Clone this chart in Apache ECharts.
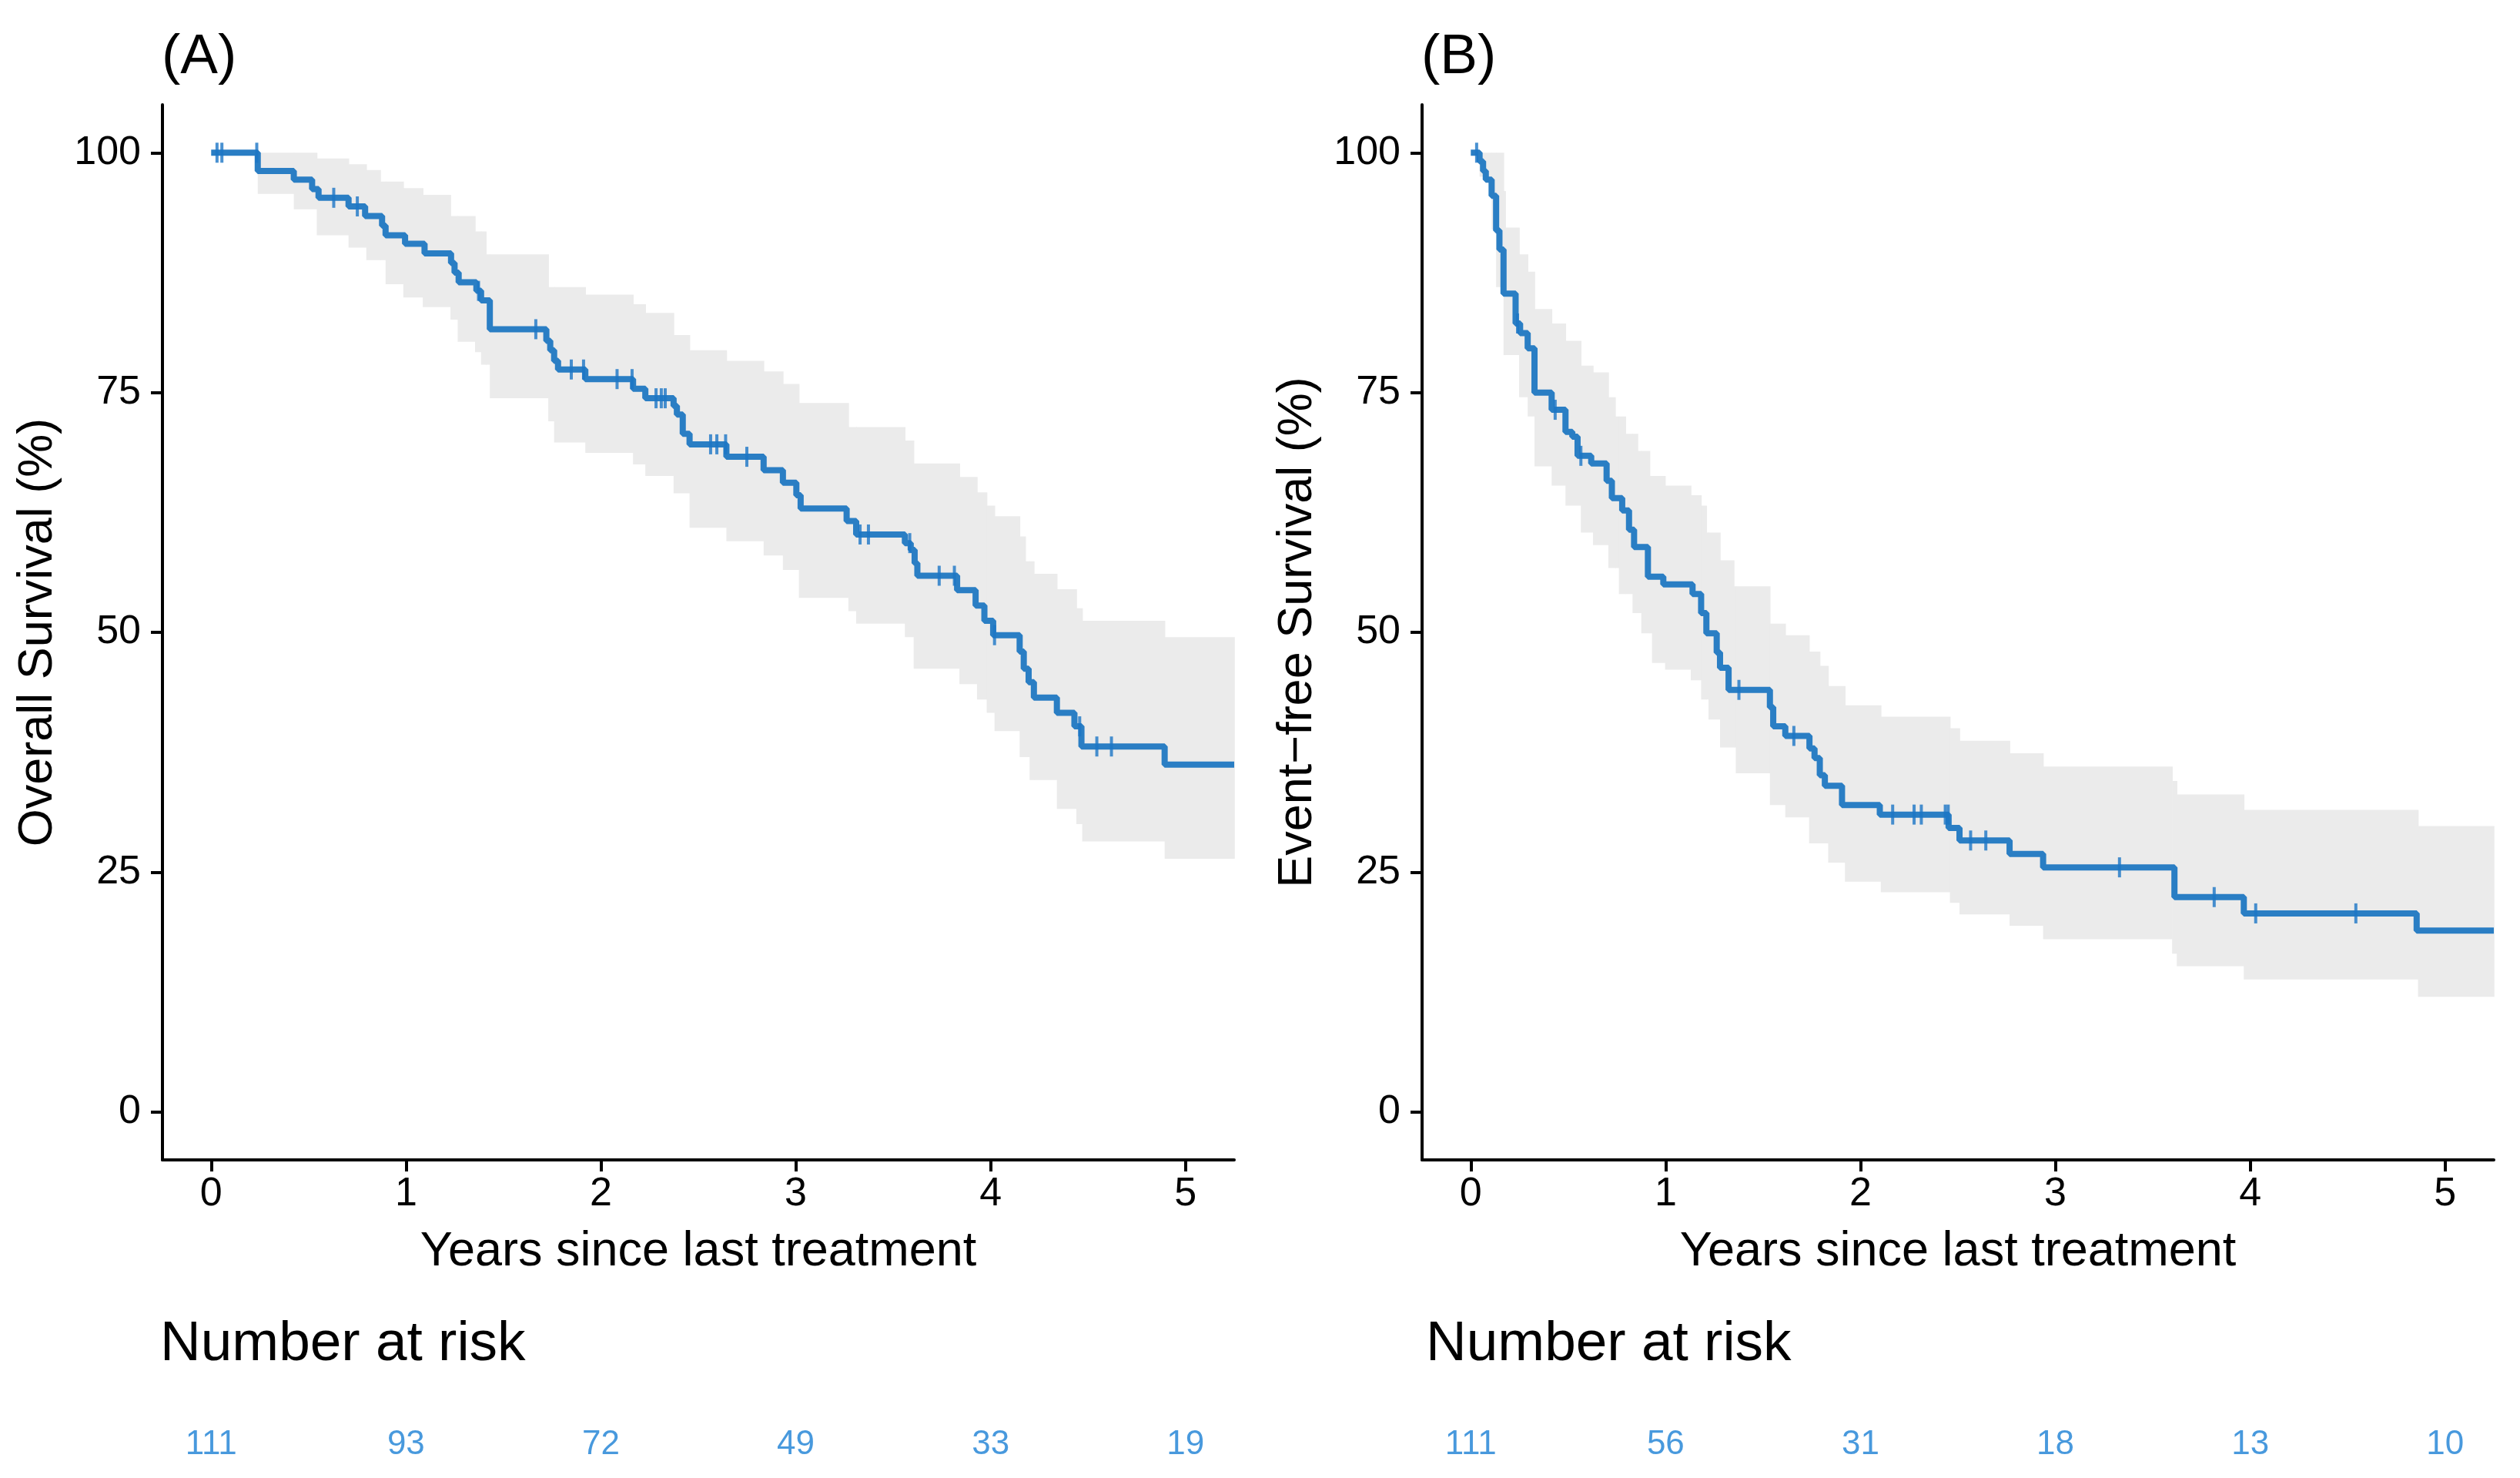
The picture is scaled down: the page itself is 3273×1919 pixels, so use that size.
<!DOCTYPE html>
<html><head><meta charset="utf-8">
<script src="https://cdn.jsdelivr.net/npm/echarts@6/dist/echarts.min.js"></script>
<style>html,body{margin:0;padding:0;background:#fff}#c{width:3273px;height:1919px}</style>
</head><body><div id="c"></div>
<script>
// ---------- data ----------
const xTicks = [0, 1, 2, 3, 4, 5];
const yTicks = [0, 25, 50, 75, 100];
const X_END = 5.25;

// (A) Overall survival: step times and survival (%)
const osTime = [0, 0.239, 0.424, 0.518, 0.551, 0.705, 0.790, 0.877, 0.895, 0.995, 1.095, 1.231, 1.249, 1.27, 1.361, 1.385, 1.43, 1.72, 1.74, 1.76, 1.78, 1.92, 2.165, 2.228, 2.373, 2.39, 2.42, 2.455, 2.644, 2.835, 2.934, 3.003, 3.025, 3.261, 3.31, 3.56, 3.59, 3.61, 3.624, 3.828, 3.923, 3.968, 4.013, 4.149, 4.17, 4.195, 4.222, 4.34, 4.43, 4.466, 4.893];
const osSurv = [100, 98.1, 97.2, 96.2, 95.3, 94.4, 93.4, 92.4, 91.4, 90.5, 89.5, 88.5, 87.5, 86.5, 85.6, 84.6, 81.6, 80.4, 79.4, 78.3, 77.4, 76.4, 75.4, 74.4, 73.6, 72.7, 70.7, 69.6, 68.3, 66.9, 65.6, 64.3, 62.9, 61.6, 60.2, 59.3, 58.6, 57.2, 55.9, 54.4, 52.8, 51.2, 49.7, 48.0, 46.2, 44.8, 43.2, 41.6, 40.2, 38.1, 36.2];
const osCensor = [0.030, 0.055, 0.234, 0.629, 0.750, 1.372, 1.666, 1.848, 1.911, 2.083, 2.160, 2.283, 2.310, 2.330, 2.563, 2.595, 2.640, 2.749, 3.330, 3.373, 3.585, 3.736, 3.814, 4.020, 4.457, 4.545, 4.620];
const osBandTime = [0.239, 0.424, 0.542, 0.705, 0.796, 0.868, 0.895, 0.986, 1.086, 1.228, 1.265, 1.354, 1.385, 1.41, 1.43, 1.73, 1.76, 1.92, 2.165, 2.228, 2.373, 2.455, 2.644, 2.835, 2.934, 3.016, 3.27, 3.31, 3.56, 3.605, 3.84, 3.93, 3.98, 4.02, 4.149, 4.178, 4.2, 4.222, 4.34, 4.44, 4.47, 4.893];
const osBandLow  = [95.7, 94.1, 91.4, 90.1, 88.8, 88.8, 86.3, 84.9, 83.9, 82.6, 80.3, 79.2, 77.9, 77.9, 74.4, 72.0, 69.8, 68.7, 67.5, 66.3, 64.5, 60.9, 59.5, 58.0, 56.5, 53.6, 52.2, 50.9, 49.5, 46.2, 44.6, 43.0, 41.6, 39.7, 37.0, 37.0, 34.6, 34.6, 31.6, 30.0, 28.2, 26.4];
const osBandHigh = [100, 100, 99.4, 98.8, 98.2, 97.0, 97.0, 96.3, 95.6, 93.4, 93.4, 91.8, 91.8, 89.4, 89.4, 86.0, 86.0, 85.2, 84.2, 83.3, 81.0, 79.4, 78.3, 77.2, 75.9, 73.9, 71.4, 71.4, 70.0, 67.6, 66.2, 64.6, 63.2, 62.1, 60.0, 57.4, 57.4, 56.1, 54.5, 52.5, 51.2, 49.5];
const osRisk = [111, 93, 72, 49, 33, 19];

// (B) Event-free survival
const efsTime = [0, 0.045, 0.063, 0.077, 0.107, 0.130, 0.147, 0.168, 0.230, 0.253, 0.292, 0.327, 0.415, 0.486, 0.521, 0.548, 0.618, 0.697, 0.724, 0.777, 0.812, 0.838, 0.909, 0.988, 1.138, 1.182, 1.209, 1.262, 1.279, 1.323, 1.535, 1.552, 1.614, 1.738, 1.764, 1.791, 1.817, 1.905, 2.099, 2.452, 2.508, 2.765, 2.937, 3.611, 3.967, 4.854];
const efsSurv = [100, 99.1, 98.1, 97.2, 95.5, 91.9, 89.9, 85.3, 82.2, 81.2, 79.6, 75.0, 73.2, 70.9, 70.4, 68.4, 67.6, 65.8, 64.0, 62.7, 60.7, 58.9, 55.8, 55.0, 54.0, 52.0, 49.9, 47.9, 46.3, 44.0, 42.2, 40.2, 39.2, 37.9, 36.9, 35.1, 34.0, 32.0, 31.0, 29.6, 28.3, 26.9, 25.5, 22.4, 20.7, 18.9];
const efsCensor = [0.030, 0.240, 0.433, 0.565, 1.376, 1.658, 2.165, 2.275, 2.312, 2.435, 2.450, 2.565, 2.643, 3.329, 3.815, 4.028, 4.542];
const efsBandTime = [0.045, 0.107, 0.130, 0.168, 0.177, 0.248, 0.292, 0.327, 0.415, 0.486, 0.565, 0.627, 0.706, 0.741, 0.76, 0.794, 0.83, 0.856, 0.875, 0.918, 0.93, 0.997, 1.129, 1.182, 1.209, 1.22, 1.279, 1.35, 1.36, 1.535, 1.614, 1.736, 1.791, 1.834, 1.92, 2.104, 2.459, 2.508, 2.765, 2.937, 3.599, 3.623, 3.967, 4.861];
const efsBandLow  = [97.5, 92.0, 86.0, 78.9, 78.9, 74.5, 72.5, 67.3, 65.3, 63.2, 60.4, 59.1, 56.7, 56.7, 54.0, 54.0, 52.0, 52.0, 49.9, 49.9, 46.8, 46.1, 45.0, 43.0, 43.0, 40.9, 38.0, 38.0, 35.3, 32.0, 30.7, 28.0, 28.0, 26.0, 24.0, 22.9, 21.8, 20.6, 19.4, 18.0, 16.5, 15.2, 13.8, 12.0];
const efsBandHigh = [100, 100, 100, 96.0, 92.2, 89.4, 87.6, 83.7, 82.2, 80.4, 77.8, 77.1, 74.5, 72.5, 72.5, 70.7, 70.7, 68.9, 68.9, 66.3, 66.3, 65.3, 64.3, 63.2, 60.4, 60.4, 57.5, 54.8, 54.8, 50.9, 49.7, 48.0, 46.5, 44.4, 42.4, 41.2, 40.0, 38.7, 37.4, 36.0, 34.5, 33.1, 31.5, 29.8];
const efsRisk = [111, 56, 31, 18, 13, 10];

// ---------- helpers ----------
const FONT = 'Liberation Sans, Arial, Helvetica, sans-serif';
const LINE = '#2a7ec4';
const RISK = '#1a80d4';
const BAND = '#ebebeb';

function survAt(times, surv, t) {
  let v = surv[0];
  for (let i = 0; i < times.length; i++) if (times[i] <= t) v = surv[i];
  return v;
}
function stepData(times, surv) {
  const d = times.map((t, i) => [t, surv[i]]);
  d.push([X_END, surv[surv.length - 1]]);
  return d;
}
function bandData(times, low, high) {
  return times.map((t, i) => [t, i + 1 < times.length ? times[i + 1] : X_END, low[i], high[i]]);
}
function bandSeries(idx, data) {
  return {
    type: 'custom', xAxisIndex: idx, yAxisIndex: idx, data: data, z: 1, silent: true,
    encode: { x: [0, 1], y: [2, 3] },
    renderItem: function (params, api) {
      const p1 = api.coord([api.value(0), api.value(3)]);
      const p2 = api.coord([api.value(1), api.value(2)]);
      return { type: 'rect', shape: { x: p1[0], y: p1[1], width: p2[0] - p1[0] + 0.8, height: p2[1] - p1[1] },
               style: { fill: BAND }, silent: true };
    }
  };
}
function mainX(idx) {
  return {
    gridIndex: idx, type: 'value', min: -0.25, max: X_END,
    axisLine: { onZero: false, lineStyle: { color: '#000', width: 4 } },
    axisTick: { customValues: xTicks, length: 15, lineStyle: { color: '#000', width: 4 } },
    axisLabel: { customValues: xTicks, fontSize: 52, lineHeight: 52, color: '#000', margin: 19, fontFamily: FONT },
    splitLine: { show: false },
    name: 'Years since last treatment', nameLocation: 'middle', nameGap: 88,
    nameTextStyle: { fontSize: 63, lineHeight: 63, color: '#000', fontFamily: FONT }
  };
}
function mainY(idx, name) {
  return {
    gridIndex: idx, type: 'value', min: -5, max: 105,
    axisLine: { show: true, onZero: false, lineStyle: { color: '#000', width: 4 } },
    axisTick: { show: true, customValues: yTicks, length: 15, lineStyle: { color: '#000', width: 4 } },
    axisLabel: { customValues: yTicks, fontSize: 52, lineHeight: 52, color: '#000', margin: 28, fontFamily: FONT },
    splitLine: { show: false },
    name: name, nameLocation: 'middle', nameGap: 130,
    nameTextStyle: { fontSize: 63, lineHeight: 63, color: '#000', fontFamily: FONT }
  };
}
function riskX(idx) { return { gridIndex: idx, type: 'value', min: -0.25, max: X_END, show: false }; }
function riskY(idx) { return { gridIndex: idx, type: 'value', min: 0, max: 1, show: false }; }

function lineSeries(idx, data) {
  return { type: 'line', xAxisIndex: idx, yAxisIndex: idx, data: data, step: 'end', showSymbol: false,
           lineStyle: { color: LINE, width: 8 }, z: 3, silent: true, animation: false };
}
function censorSeries(idx, times, surv, cens) {
  return { type: 'scatter', xAxisIndex: idx, yAxisIndex: idx, symbol: 'rect', symbolSize: [4, 26],
           itemStyle: { color: '#1c75c6' }, z: 4, silent: true,
           data: cens.map(t => [t, survAt(times, surv, t)]) };
}
function riskSeries(idx, vals) {
  return { type: 'scatter', xAxisIndex: idx, yAxisIndex: idx, symbolSize: 1, itemStyle: { color: 'rgba(0,0,0,0)' },
           silent: true,
           label: { show: true, position: 'inside', formatter: p => String(p.value[2]), color: RISK, fontSize: 44, fontFamily: FONT },
           data: xTicks.map((x, i) => [x, 0.5, vals[i]]) };
}

const chart = echarts.init(document.getElementById('c'), null, { renderer: 'canvas' });
chart.setOption({
  animation: false,
  backgroundColor: '#fff',
  textStyle: { fontFamily: FONT },
  title: [
    { text: '(A)', left: 210, top: 38, padding: 0, textStyle: { fontSize: 73, lineHeight: 73, fontWeight: 'normal', color: '#000', fontFamily: FONT } },
    { text: '(B)', left: 1846, top: 38, padding: 0, textStyle: { fontSize: 73, lineHeight: 73, fontWeight: 'normal', color: '#000', fontFamily: FONT } },
    { text: 'Number at risk', left: 208, top: 1709, padding: 0, textStyle: { fontSize: 73, lineHeight: 73, fontWeight: 'normal', color: '#000', fontFamily: FONT } },
    { text: 'Number at risk', left: 1852, top: 1709, padding: 0, textStyle: { fontSize: 73, lineHeight: 73, fontWeight: 'normal', color: '#000', fontFamily: FONT } }
  ],
  grid: [
    { left: 211, width: 1392, top: 136, height: 1370 },
    { left: 1847, width: 1392, top: 136, height: 1370 },
    { left: 211, width: 1392, top: 1846, height: 60 },
    { left: 1847, width: 1392, top: 1846, height: 60 }
  ],
  xAxis: [mainX(0), mainX(1), riskX(2), riskX(3)],
  yAxis: [mainY(0, 'Overall Survival (%)'), mainY(1, 'Event\u2212free Survival (%)'), riskY(2), riskY(3)],
  series: [
    bandSeries(0, bandData(osBandTime, osBandLow, osBandHigh)),
    lineSeries(0, stepData(osTime, osSurv)),
    censorSeries(0, osTime, osSurv, osCensor),
    bandSeries(1, bandData(efsBandTime, efsBandLow, efsBandHigh)),
    lineSeries(1, stepData(efsTime, efsSurv)),
    censorSeries(1, efsTime, efsSurv, efsCensor),
    riskSeries(2, osRisk),
    riskSeries(3, efsRisk)
  ]
});
</script></body></html>
